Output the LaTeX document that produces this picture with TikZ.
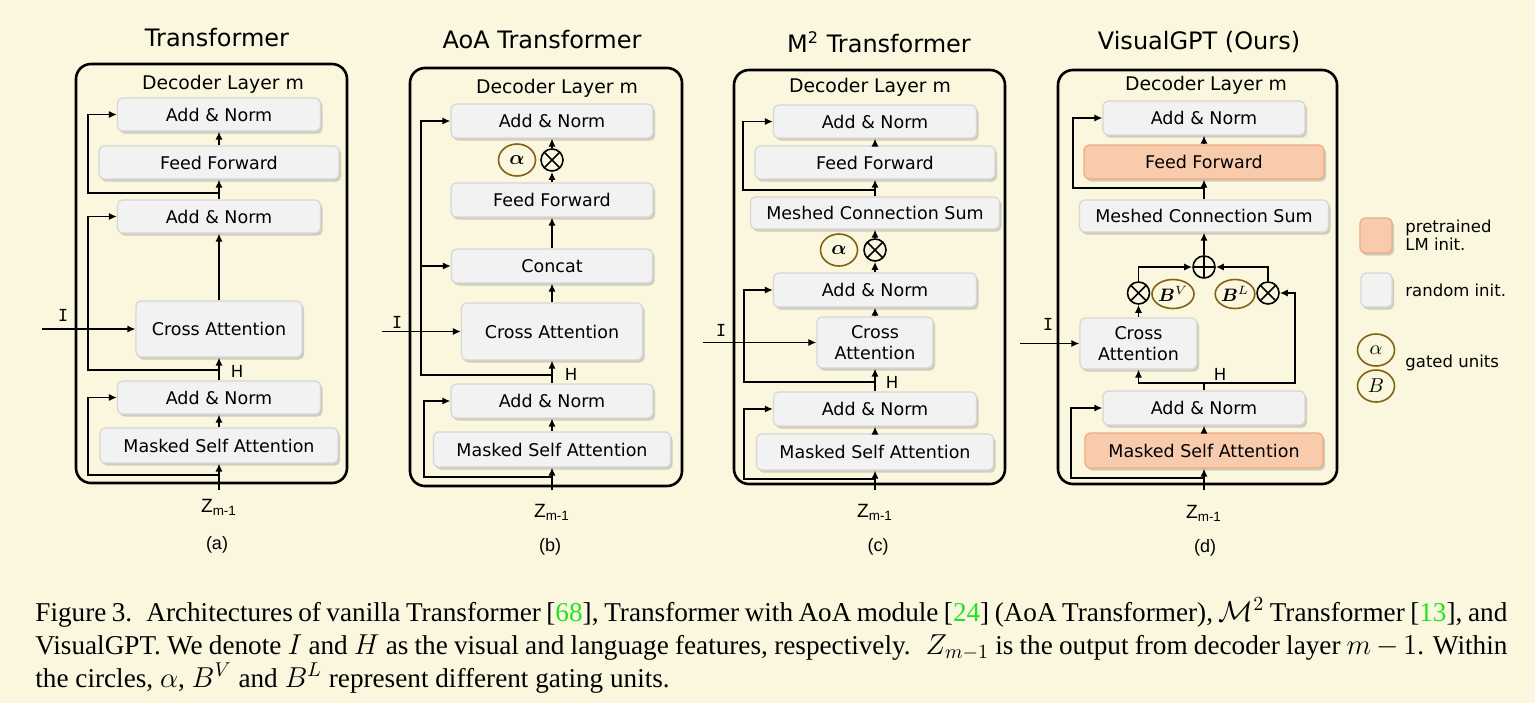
\documentclass[tikz,border=0pt]{standalone}
\usepackage{amsmath,amssymb}
\usepackage{fontspec}
\setmainfont{Liberation Serif}
\newfontfamily\verdfont{DejaVu Sans}
\newfontfamily\arialfont{Liberation Sans}
\newfontfamily\typefont{DejaVu Sans Mono}
\usepackage{tikz}
\usetikzlibrary{arrows.meta,shapes.geometric,shadows}

\definecolor{bgcream}{RGB}{250,247,222}
\definecolor{boxfill}{RGB}{242,242,242}
\definecolor{boxline}{RGB}{214,214,214}
\definecolor{orfill}{RGB}{248,203,173}
\definecolor{orline}{RGB}{240,170,125}
\definecolor{gatebrown}{RGB}{130,98,20}
\definecolor{citegreen}{RGB}{30,230,30}

\begin{document}
\begin{tikzpicture}[x=0.5pt, y=-0.5pt,
    blk/.style={draw=boxline, fill=boxfill, line width=0.6pt, rounded corners=2.5pt, inner sep=0pt,
      minimum height=16.5pt, font=\verdfont\fontsize{8.75}{10.5}\selectfont,
      drop shadow={shadow xshift=1pt, shadow yshift=-1.3pt, opacity=0.35}},
    pre/.style={blk, draw=orline, fill=orfill},
    gate/.style={ellipse, draw=gatebrown, line width=0.8pt, minimum width=18.5pt, minimum height=16pt,
      inner sep=0pt, font=\fontsize{10}{12}\selectfont},
    wgate/.style={gate, minimum height=14.5pt, font=\fontsize{9}{11}\selectfont},
    mult/.style={circle, draw, line width=0.8pt, minimum size=11pt, inner sep=0pt,
      path picture={\draw[line width=0.8pt] (path picture bounding box.north west) -- (path picture bounding box.south east)
        (path picture bounding box.north east) -- (path picture bounding box.south west);}},
    plus/.style={circle, draw, line width=0.8pt, minimum size=11pt, inner sep=0pt,
      path picture={\draw[line width=0.8pt] (path picture bounding box.north) -- (path picture bounding box.south)
        (path picture bounding box.west) -- (path picture bounding box.east);}},
    frame/.style={draw, line width=1.3pt, rounded corners=7.5pt},
    ttl/.style={font=\verdfont\fontsize{12}{14}\selectfont},
    lyr/.style={font=\verdfont\fontsize{9.4}{11}\selectfont},
    lbl/.style={font=\verdfont\fontsize{8.3}{10}\selectfont, inner sep=0pt},
    zlbl/.style={font=\arialfont\fontsize{9.6}{11}\selectfont, inner sep=0pt},
    sub/.style={font=\arialfont\fontsize{9}{11}\selectfont, inner sep=0pt},
    lgd/.style={font=\verdfont\fontsize{8.25}{7.8}\selectfont, inner sep=0pt, anchor=west, align=left},
    arr/.style={-{Latex[length=4pt,width=3.6pt]}, line width=0.85pt},
    line/.style={line width=0.85pt},
  ]
  \useasboundingbox (0,0) rectangle (1535,703);
  \fill[bgcream] (0,0) rectangle (1535,703);

  % (a) vanilla transformer
  \draw[frame] (76,64) rectangle (347,483);
  \node[ttl] (a-ttl) at (217,38) {Transformer};
  \node[lyr] (a-lyr) at (223,84) {Decoder Layer m};
  \node[blk, minimum width=101.5pt] (a-an3) at (219,114.5) {Add \& Norm};
  \node[blk, minimum width=120pt] (a-ff) at (219,162.5) {Feed Forward};
  \node[blk, minimum width=101.5pt] (a-an2) at (219,216.5) {Add \& Norm};
  \node[blk, minimum width=83pt, minimum height=28pt] (a-ca) at (219,329) {Cross Attention};
  \node[blk, minimum width=101.5pt] (a-an1) at (219,397.5) {Add \& Norm};
  \node[blk, minimum width=119pt, minimum height=17.5pt] (a-msa) at (219,445.5) {Masked Self Attention};
  \coordinate (a-in) at (219,490);
  \coordinate (a-r1) at (219,475);
  \coordinate (a-h) at (219,370);
  \coordinate (a-r3) at (219,193);
  \coordinate (a-i) at (42,329);
  \draw[arr] (a-in) -- (a-msa);
  \draw[arr] (a-msa) -- (a-an1);
  \draw[arr] (a-an1) -- (a-ca);
  \draw[arr] (a-ca) -- (a-an2);
  \draw[arr] (a-an2) -- (a-ff);
  \draw[arr] (a-ff) -- (a-an3);
  \draw[arr] (a-r1) -- ++(-131,0) |- (a-an1);
  \draw[arr] (a-h) -- ++(-131,0) |- (a-an2);
  \draw[arr] (a-r3) -- ++(-131,0) |- (a-an3);
  \draw[arr] (a-i) -- (a-ca);
  \node[lbl] (a-il) at (63,315) {\typefont I};
  \node[lbl] (a-hl) at (237,371) {H};
  \node[zlbl] (a-z) at (219,507) {Z\textsubscript{m-1}};
  \node[sub] (a-sub) at (217,545) {(a)};

  % (b) AoA transformer
  \draw[frame] (410,68) rectangle (682,486);
  \node[ttl] (b-ttl) at (542,40) {AoA Transformer};
  \node[lyr] (b-lyr) at (557,88) {Decoder Layer m};
  \node[blk, minimum width=101pt, minimum height=17pt] (b-an2) at (552,121) {Add \& Norm};
  \node[gate] (b-al) at (517,160) {$\boldsymbol{\alpha}$};
  \node[mult] (b-ot) at (552,160) {};
  \node[blk, minimum width=101pt, minimum height=17pt] (b-ff) at (552,200) {Feed Forward};
  \node[blk, minimum width=100.5pt, minimum height=17pt] (b-cat) at (552,266) {Concat};
  \node[blk, minimum width=90.5pt, minimum height=28.5pt] (b-ca) at (552,331.5) {Cross Attention};
  \node[blk, minimum width=101pt, minimum height=17pt] (b-an1) at (552,401) {Add \& Norm};
  \node[blk, minimum width=118.5pt, minimum height=17.5pt] (b-msa) at (552,449.5) {Masked Self Attention};
  \coordinate (b-in) at (552,490);
  \coordinate (b-r1) at (552,477);
  \coordinate (b-h) at (552,375);
  \coordinate (b-j) at (421,266);
  \coordinate (b-i) at (382,331.5);
  \draw[arr] (b-in) -- (b-msa);
  \draw[arr] (b-msa) -- (b-an1);
  \draw[arr] (b-an1) -- (b-ca);
  \draw[arr] (b-ca) -- (b-cat);
  \draw[arr] (b-cat) -- (b-ff);
  \draw[arr] (b-ff) -- (b-ot);
  \draw[arr] (b-ot) -- (b-an2);
  \draw[arr] (b-r1) -- ++(-128,0) |- (b-an1);
  \draw[arr] (b-h) -- ++(-131,0) |- (b-an2);
  \draw[arr] (b-j) -- (b-cat);
  \draw[arr] (b-i) -- (b-ca);
  \node[lbl] (b-il) at (397,322) {\typefont I};
  \node[lbl] (b-hl) at (571,374) {H};
  \node[zlbl] (b-z) at (552,512) {Z\textsubscript{m-1}};
  \node[sub] (b-sub) at (550,547) {(b)};

  % (c) meshed-memory transformer
  \draw[frame] (734,70) rectangle (1005,484);
  \node[ttl] (c-ttl) at (879,42) {M\textsuperscript{2} Transformer};
  \node[lyr] (c-lyr) at (870,87) {Decoder Layer m};
  \node[blk, minimum width=101.5pt] (c-an3) at (875,121.5) {Add \& Norm};
  \node[blk, minimum width=120pt] (c-ff) at (875,162.5) {Feed Forward};
  \node[blk, minimum width=124.5pt, minimum height=16pt] (c-mcs) at (875,213) {Meshed Connection Sum};
  \node[gate] (c-al) at (839,250) {$\boldsymbol{\alpha}$};
  \node[mult] (c-ot) at (875,250) {};
  \node[blk, minimum width=101.5pt, minimum height=17pt] (c-an2) at (875,290) {Add \& Norm};
  \node[blk, minimum width=58pt, minimum height=25.5pt, align=center] (c-ca) at (875,342.5) {Cross\\Attention};
  \node[blk, minimum width=101.5pt, minimum height=17pt] (c-an1) at (875,409) {Add \& Norm};
  \node[blk, minimum width=118.5pt, minimum height=18pt] (c-msa) at (875,452) {Masked Self Attention};
  \coordinate (c-in) at (875,490);
  \coordinate (c-r1) at (875,479);
  \coordinate (c-h) at (875,382);
  \coordinate (c-r3) at (875,190);
  \coordinate (c-i) at (703,342.5);
  \draw[arr] (c-in) -- (c-msa);
  \draw[arr] (c-msa) -- (c-an1);
  \draw[arr, line width=1.4pt] (c-an1) -- (c-ca);
  \draw[arr] (c-ca) -- (c-an2);
  \draw[arr] (c-an2) -- (c-ot);
  \draw[arr] (c-ot) -- (c-mcs);
  \draw[arr] (c-mcs) -- (c-ff);
  \draw[arr] (c-ff) -- (c-an3);
  \draw[arr] (c-r1) -- ++(-131,0) |- (c-an1);
  \draw[arr] (c-h) -- ++(-131,0) |- (c-an2);
  \draw[arr] (c-r3) -- ++(-132,0) |- (c-an3);
  \draw[arr] (c-i) -- (c-ca);
  \node[lbl] (c-il) at (721,330) {\typefont I};
  \node[lbl] (c-hl) at (892,382) {H};
  \node[zlbl] (c-z) at (875,512) {Z\textsubscript{m-1}};
  \node[sub] (c-sub) at (878,547) {(c)};

  % (d) VisualGPT
  \draw[frame] (1058,70) rectangle (1337,484);
  \node[ttl] (d-ttl) at (1199,42) {VisualGPT (Ours)};
  \node[lyr] (d-lyr) at (1206,85) {Decoder Layer m};
  \node[blk, minimum width=101pt, minimum height=17pt] (d-an2) at (1204,118) {Add \& Norm};
  \node[pre, minimum width=120pt, minimum height=17pt] (d-ff) at (1204,162) {Feed Forward};
  \node[blk, minimum width=124.5pt, minimum height=16pt] (d-mcs) at (1204,216) {Meshed Connection Sum};
  \node[plus] (d-op) at (1204,267) {};
  \node[mult] (d-otl) at (1138.5,293) {};
  \node[wgate] (d-bv) at (1173,294) {$\boldsymbol{B}^{V}$};
  \node[wgate] (d-bl) at (1235,294) {$\boldsymbol{B}^{L}$};
  \node[mult] (d-otr) at (1268,293) {};
  \node[blk, minimum width=58.5pt, minimum height=25.5pt, align=center] (d-ca) at (1138.5,343.5) {Cross\\Attention};
  \node[blk, minimum width=101pt, minimum height=17pt] (d-an1) at (1204,408) {Add \& Norm};
  \node[pre, minimum width=119pt, minimum height=17.5pt] (d-msa) at (1204,450.5) {Masked Self Attention};
  \coordinate (d-in) at (1204,490);
  \coordinate (d-r1) at (1204,478);
  \coordinate (d-h) at (1204,383);
  \coordinate (d-r3) at (1204,188);
  \coordinate (d-i) at (1020,343.5);
  \draw[arr] (d-in) -- (d-msa);
  \draw[arr] (d-msa) -- (d-an1);
  \draw[line] (d-an1) -- (d-h);
  \draw[arr] (d-h) -| (d-ca);
  \draw[arr] (d-h) -- ++(91,0) |- (d-otr);
  \draw[arr] (d-ca) -- (d-otl);
  \draw[arr] (d-otl) |- (d-op);
  \draw[arr] (d-otr) |- (d-op);
  \draw[arr] (d-op) -- (d-mcs);
  \draw[arr] (d-mcs) -- (d-ff);
  \draw[arr] (d-ff) -- (d-an2);
  \draw[arr] (d-r1) -- ++(-133,0) |- (d-an1);
  \draw[arr] (d-r3) -- ++(-131,0) |- (d-an2);
  \draw[arr] (d-i) -- (d-ca);
  \node[lbl] (d-il) at (1048,324) {\typefont I};
  \node[lbl] (d-hl) at (1220,374) {H};
  \node[zlbl] (d-z) at (1204,513) {Z\textsubscript{m-1}};
  \node[sub] (d-sub) at (1205,548) {(d)};

  % legend
  \node[pre, minimum width=16pt, minimum height=17.5pt] (lg-pre) at (1376,235.5) {};
  \node[lgd] (lg-pre-t) at (1405,235) {pretrained\\LM init.};
  \node[blk, minimum width=15.5pt, minimum height=17pt] (lg-rnd) at (1376.5,290) {};
  \node[lgd] (lg-rnd-t) at (1405,290) {random init.};
  \node[gate] (lg-al) at (1376,350) {$\alpha$};
  \node[gate] (lg-b) at (1376,386) {$B$};
  \node[lgd] (lg-gate-t) at (1405,363) {gated units};

  % caption
  \node[anchor=base west, inner sep=0pt, font=\fontsize{13.6}{16.5}\selectfont] (cap) at (35,621) {\parbox[t]{736pt}{%
    \hbox to 736pt{Figure 3. \ Architectures of vanilla Transformer [\textcolor{citegreen}{68}], Transformer with AoA module [\textcolor{citegreen}{24}] (AoA Transformer), $\mathcal{M}^2$ Transformer [\textcolor{citegreen}{13}], and}
    \hbox to 736pt{VisualGPT. We denote $I$ and $H$ as the visual and language features, respectively. \ $Z_{m-1}$ is the output from decoder layer $m-1$. Within}
    \hbox{the circles, $\alpha$, $B^V$ and $B^L$ represent different gating units.}}};
\end{tikzpicture}
\end{document}
